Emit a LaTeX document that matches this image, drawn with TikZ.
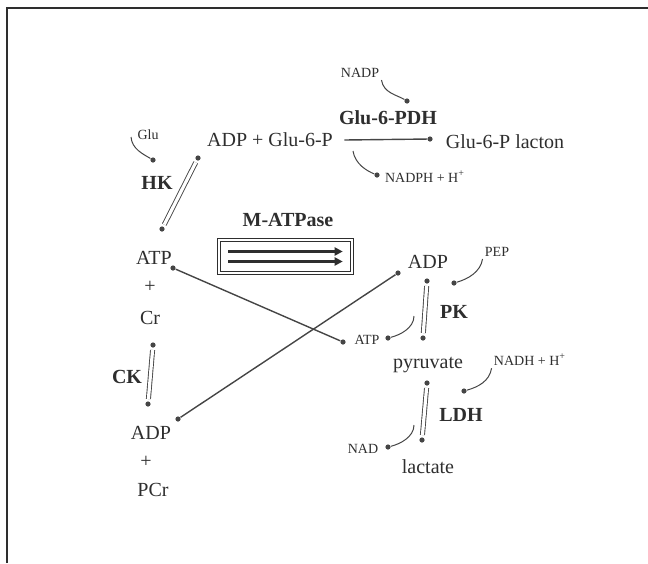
\documentclass[tikz,border=0pt]{standalone}
\usepackage{fontspec}
\setmainfont{Liberation Serif}
\usetikzlibrary{arrows.meta}
\definecolor{metInk}{HTML}{2E2E2E}
\definecolor{metLine}{HTML}{454545}
\tikzset{
  metnode/.style={inner sep=1pt,font=\fontsize{10}{12}\selectfont,text=metInk},
  metenz/.style={metnode,font=\fontsize{10}{12}\selectfont\bfseries},
  metsmall/.style={metnode,font=\fontsize{7}{8}\selectfont},
  metdot/.style={circle,fill=metLine,inner sep=0pt,minimum size=2.6pt},
  metpair/.style={draw=metLine,double=white,double distance=1.6pt,
                  line width=0.45pt,shorten <=1pt,shorten >=1pt},
  metflow/.style={draw=metLine,line width=0.7pt},
  metcurl/.style={draw=metLine,line width=0.5pt},
  metbox/.style={draw=metInk,double=white,double distance=0.8pt,
                 line width=0.7pt,minimum width=66.5pt,minimum height=16.5pt},
  metfast/.style={-{Triangle[length=4pt,width=4pt]},line width=1.4pt,metInk}
}

\begin{document}
\begin{tikzpicture}[x=0.5pt,y=-0.5pt]
  \useasboundingbox (0,0) rectangle (648,563);
  \draw[line width=1pt,metInk] (7,563) -- (7,8) -- (648,8);

  % glucose-6-phosphate branch
  \node[metnode] (g6p) at (270,140) {ADP + Glu-6-P};
  \node[metnode] (lacton) at (505,142) {Glu-6-P lacton};
  \node[metenz] (g6pdh) at (388,118) {Glu-6-PDH};
  \node[metsmall] (nadp) at (360,73) {NADP};
  \node[metsmall] (nadph) at (425,177) {NADPH + H\textsuperscript{+}};
  \node[metdot] (lactonDot) at (430,139) {};
  \node[metdot] (nadpDot) at (407,101) {};
  \node[metdot] (nadphDot) at (377,175) {};
  \coordinate (nadphFrom) at (353,151);
  \draw[metflow] ([xshift=4.5pt]g6p.east) -- (lactonDot);
  \draw[metcurl] (nadp.south east) .. controls +(2,13) and +(-10,-6) .. (nadpDot);
  \draw[metcurl] (nadphFrom) .. controls +(2,13) and +(-10,-4) .. (nadphDot);

  % hexokinase
  \node[metsmall] (glu) at (148,135) {Glu};
  \node[metenz] (hk) at (157,183) {HK};
  \node[metdot] (gluDot) at (153,160) {};
  \coordinate (gluFrom) at (131,137);
  \node[metdot] (hkTop) at (198,158) {};
  \node[metdot] (hkBot) at (162,229) {};
  \draw[metcurl] (gluFrom) .. controls +(1,12) and +(-10,-6) .. (gluDot);
  \draw[metpair] (hkTop) -- (hkBot);

  % myosin ATPase
  \node[metenz] (atpaseLbl) at (288,220) {M-ATPase};
  \node[metbox] (atpase) at (285.5,256.5) {};
  \draw[metfast] ([xshift=5pt,yshift=2.5pt]atpase.west)
    -- ([xshift=-5pt,yshift=2.5pt]atpase.east);
  \draw[metfast] ([xshift=5pt,yshift=-2.5pt]atpase.west)
    -- ([xshift=-5pt,yshift=-2.5pt]atpase.east);

  % creatine kinase column
  \node[metnode] (atp) at (154,258) {ATP};
  \node[metnode] (plusA) at (150,287) {+};
  \node[metnode] (cr) at (150,318) {Cr};
  \node[metenz] (ck) at (127,377) {CK};
  \node[metnode] (adpL) at (151,433) {ADP};
  \node[metnode] (plusB) at (146,462) {+};
  \node[metnode] (pcr) at (153,490) {PCr};
  \node[metdot] (ckTop) at (153,345) {};
  \node[metdot] (ckBot) at (148,404) {};
  \draw[metpair] (ckTop) -- (ckBot);

  % glycolysis
  \node[metnode] (adpR) at (428,262) {ADP};
  \node[metsmall] (pep) at (497,252) {PEP};
  \node[metenz] (pk) at (454,312) {PK};
  \node[metsmall] (atpS) at (367,340) {ATP};
  \node[metnode] (pyr) at (428,365) {pyruvate};
  \node[metsmall] (nadh) at (530,360) {NADH + H\textsuperscript{+}};
  \node[metenz] (ldh) at (461,415) {LDH};
  \node[metsmall] (nad) at (363,449) {NAD};
  \node[metnode] (lac) at (428,467) {lactate};
  \node[metdot] (pkTop) at (427,281) {};
  \node[metdot] (pkBot) at (423,338) {};
  \node[metdot] (pepDot) at (454,283) {};
  \node[metdot] (atpSDot) at (388,338) {};
  \coordinate (atpSFrom) at (414,316);
  \node[metdot] (ldhTop) at (427,383) {};
  \node[metdot] (ldhBot) at (422,440) {};
  \node[metdot] (nadhDot) at (464,391) {};
  \node[metdot] (nadDot) at (388,447) {};
  \coordinate (nadFrom) at (414,425);
  \draw[metpair] (pkTop) -- (pkBot);
  \draw[metpair] (ldhTop) -- (ldhBot);
  \draw[metcurl] (pep.south west) .. controls +(-2,13) and +(14,-4) .. (pepDot);
  \draw[metcurl] (atpSFrom) .. controls +(0,12) and +(12,-3) .. (atpSDot);
  \draw[metcurl] (nadh.south west) .. controls +(-2,13) and +(14,-4) .. (nadhDot);
  \draw[metcurl] (nadFrom) .. controls +(0,12) and +(12,-3) .. (nadDot);

  % cross transfers
  \node[metdot] (atpDot) at (173,268) {};
  \node[metdot] (atpSArr) at (343,342) {};
  \node[metdot] (adpLDot) at (178,419) {};
  \node[metdot] (adpRDot) at (398,273) {};
  \draw[metflow] (atpDot) -- (atpSArr);
  \draw[metflow] (adpLDot) -- (adpRDot);
\end{tikzpicture}
\end{document}
